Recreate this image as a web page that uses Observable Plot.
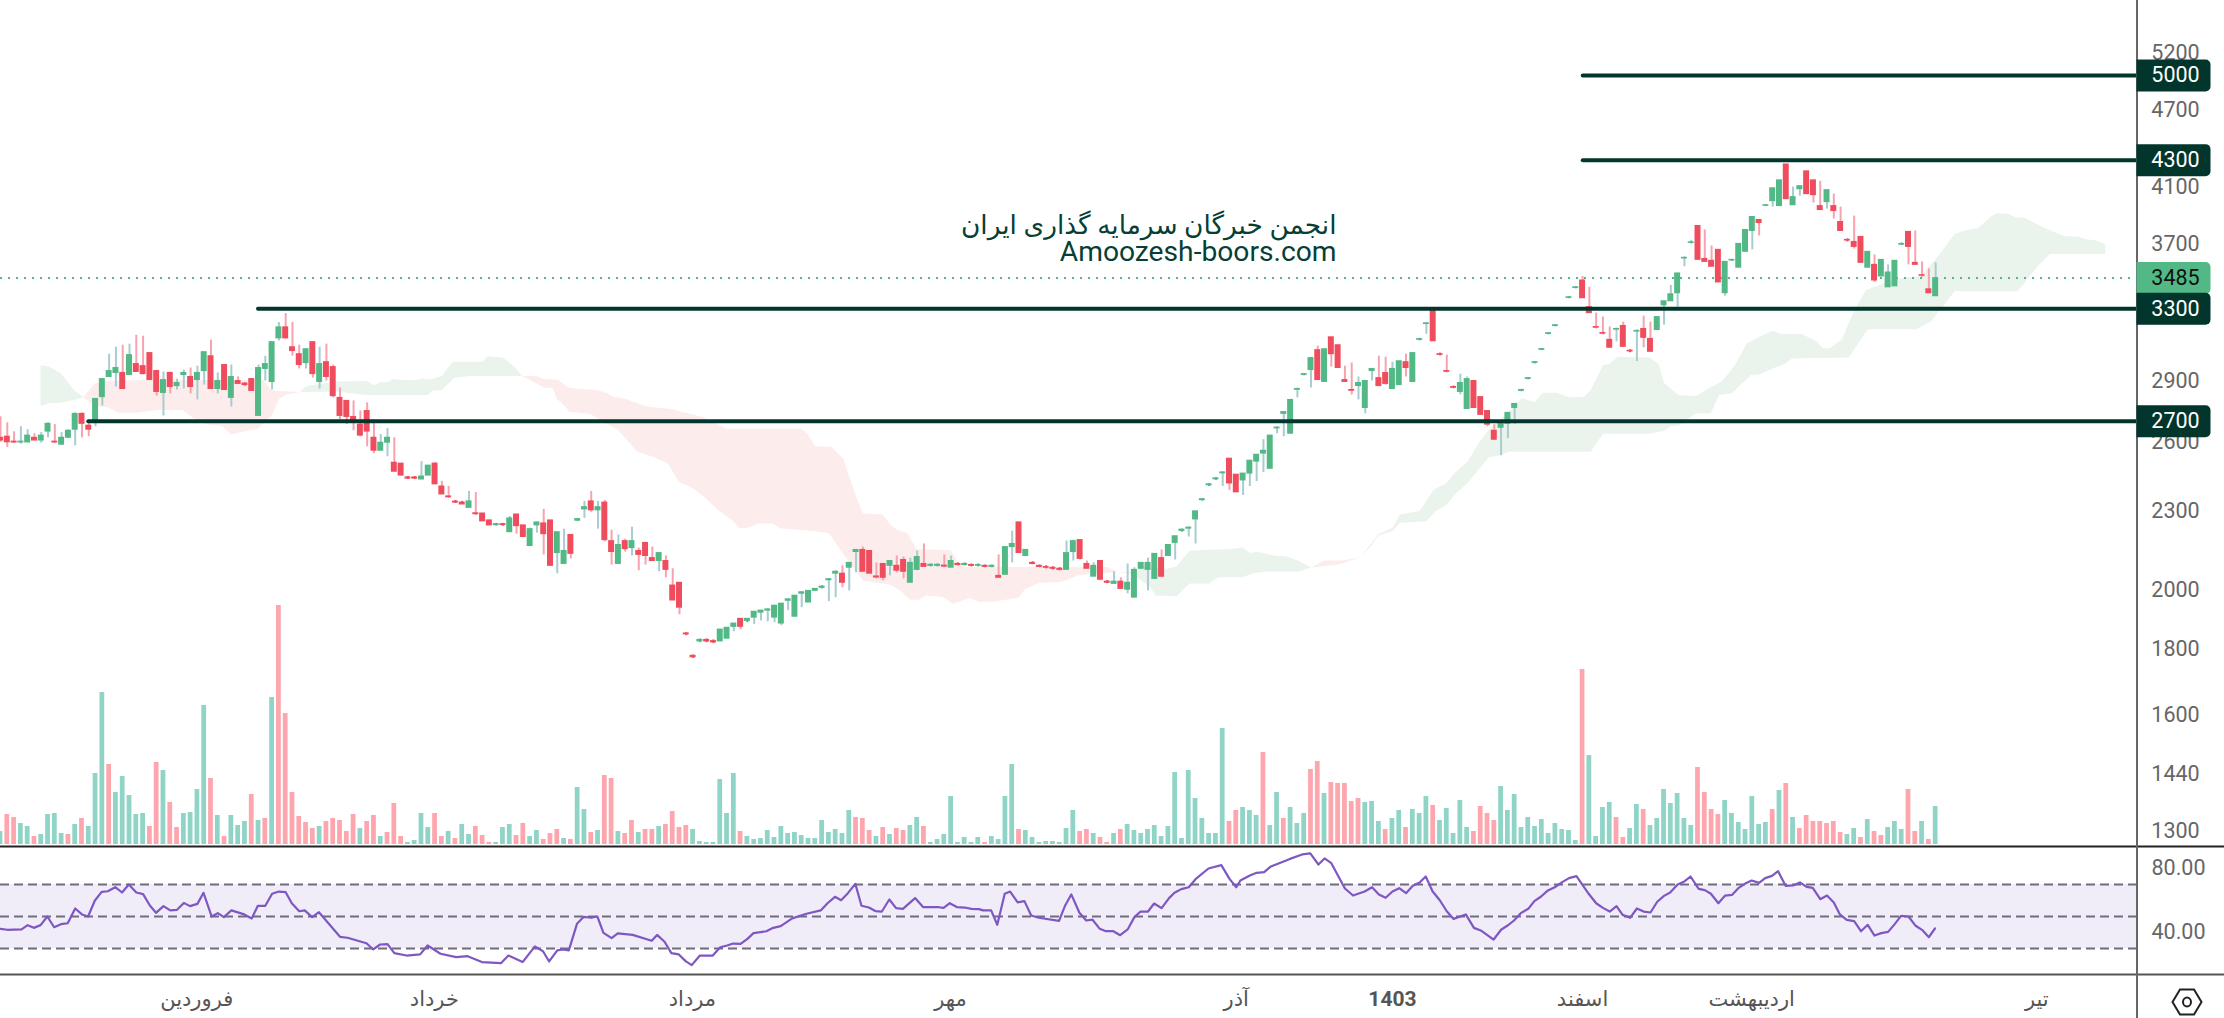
<!DOCTYPE html>
<html>
<head>
<meta charset="utf-8">
<script src="https://cdn.jsdelivr.net/npm/d3@7"></script>
<script src="https://cdn.jsdelivr.net/npm/@observablehq/plot@0.6"></script>
<style>
html,body{margin:0;padding:0;background:#fff;width:2224px;height:1018px;overflow:hidden}
#c{position:relative;width:2224px;height:1018px;overflow:hidden}
#c svg{position:absolute;left:0}
</style>
</head>
<body>
<div id="c"></div>
<script>
const open=[2622,2627,2604,2600,2600,2622,2609,2651,2604,2590,
2622,2660,2736,2679,2697,2819,2922,2943,2943,2932,
2990,2979,3049,2953,2840,2943,2875,2932,2922,2906,
2953,3032,2860,2985,2815,2901,2888,2911,2726,2964,
2896,3130,3192,3081,3043,2995,3109,2896,3000,2974,
2815,2800,2721,2684,2750,2622,2562,2599,2508,2504,
2443,2443,2434,2451,2504,2404,2362,2340,2336,2314,
2292,2291,2263,2244,2248,2216,2287,2243,2162,2243,
2251,2263,2135,2094,2205,2262,2308,2341,2304,2336,
2181,2094,2181,2154,2143,2174,2116,2105,2105,2015,
2025,1850,1778,1824,1829,1825,1824,1833,1872,1899,
1892,1903,1920,1927,1903,1883,1961,1906,1986,1955,
1996,2007,2034,2058,2058,2080,2139,2147,2143,2048,
2094,2087,2087,2109,2025,2072,2094,2087,2087,2088,
2080,2094,2090,2090,2087,2087,2083,2050,2054,2158,
2255,2124,2098,2087,2083,2080,2076,2072,2139,2185,
2094,2047,2105,2029,2021,2029,2000,1972,2076,2072,
2039,2116,2124,2174,2221,2230,2267,2346,2409,2435,
2461,2526,2455,2430,2460,2513,2549,2481,2666,2736,
2641,2856,2933,2958,3065,2896,3136,3092,2906,2855,
2875,2765,2953,2916,2943,2860,2880,3000,2896,3122,
3211,3302,3043,2953,2870,2845,2760,2901,2819,2750,
2655,2669,2688,2765,2851,2912,2996,3067,3155,3200,
3298,3364,3424,3470,3309,3194,3160,3122,3179,3200,
3062,3168,3183,3127,3177,3320,3344,3392,3609,3710,
3824,3606,3594,3665,3392,3596,3550,3652,3790,3865,
3964,3997,3962,4267,3968,4083,4215,4148,3962,3990,
3962,3851,3730,3717,3750,3550,3568,3495,3428,3434,
3699,3784,3581,3503,3416,3374];
const high=[2722,2693,2650,2674,2660,2641,2646,2693,2684,2646,
2660,2741,2741,2693,2810,2911,3043,3081,3092,3098,
3147,3142,3049,2958,2948,2948,2911,2958,2969,2979,
3054,3120,2943,2985,2985,2922,2891,2911,2985,3032,
3109,3220,3272,3220,3092,3070,3109,3081,3098,2985,
2865,2800,2800,2750,2790,2707,2637,2665,2622,2504,
2447,2447,2513,2495,2508,2426,2404,2345,2341,2383,
2378,2291,2263,2251,2251,2279,2287,2243,2232,2255,
2308,2263,2216,2228,2205,2271,2341,2383,2341,2345,
2224,2205,2189,2236,2154,2174,2158,2135,2124,2076,
2025,1853,1780,1832,1832,1829,1863,1869,1883,1899,
1899,1923,1927,1934,1944,1951,1969,1979,1993,1996,
2003,2014,2039,2069,2087,2098,2147,2158,2143,2098,
2094,2105,2124,2120,2116,2143,2170,2094,2094,2128,
2124,2098,2098,2094,2094,2090,2090,2128,2158,2220,
2255,2147,2102,2090,2087,2083,2080,2181,2185,2185,
2105,2098,2105,2033,2065,2043,2094,2080,2098,2116,
2132,2147,2166,2200,2228,2236,2300,2353,2416,2442,
2469,2526,2455,2460,2517,2544,2613,2632,2674,2745,
2805,2865,2940,3022,3087,3070,3136,3092,2979,2995,
2922,2901,2964,3032,3027,3000,3005,3043,3049,3130,
3220,3302,3049,3038,2875,2937,2922,2901,2819,2750,
2684,2697,2741,2785,2858,2919,3003,3074,3162,3207,
3305,3371,3431,3495,3428,3274,3251,3194,3188,3222,
3067,3177,3257,3222,3251,3344,3440,3514,3620,3723,
3824,3797,3690,3665,3587,3603,3704,3797,3886,3865,
3971,4090,4148,4267,4098,4105,4215,4148,4141,4076,
4047,3955,3737,3892,3750,3652,3632,3600,3568,3594,
3710,3784,3790,3587,3543,3581];
const low=[2600,2577,2595,2592,2600,2609,2597,2622,2595,2586,
2618,2585,2622,2627,2674,2775,2922,2870,2860,2932,
2948,2932,2906,2824,2726,2835,2855,2860,2835,2805,
2880,2860,2835,2855,2770,2886,2875,2850,2726,2901,
2855,3115,3126,3032,2964,2964,2916,2860,2901,2815,
2707,2684,2655,2627,2580,2549,2562,2535,2468,2451,
2434,2434,2434,2451,2413,2370,2353,2332,2328,2314,
2283,2259,2243,2240,2240,2216,2208,2197,2162,2212,
2128,2087,2058,2094,2113,2259,2271,2296,2228,2178,
2090,2094,2139,2124,2069,2090,2105,2065,2043,1962,
1913,1843,1770,1820,1820,1817,1824,1833,1856,1863,
1886,1880,1892,1889,1886,1876,1927,1906,1937,1955,
1996,2003,1958,1972,2007,1996,2061,2065,2058,2039,
2032,2050,2061,2039,2025,2069,2083,2083,2083,2080,
2080,2087,2087,2083,2083,2080,2080,2043,2054,2098,
2135,2124,2091,2080,2076,2072,2069,2072,2105,2109,
2076,2047,2032,2022,2021,2003,1986,1972,2076,1996,
2039,2043,2124,2109,2216,2197,2170,2342,2404,2430,
2404,2387,2379,2366,2404,2425,2464,2481,2641,2627,
2641,2815,2928,2865,2906,2896,2974,2969,2896,2830,
2805,2736,2901,2875,2880,2860,2880,2922,2896,3116,
3153,3114,3034,2943,2862,2830,2760,2765,2731,2674,
2609,2540,2618,2684,2846,2907,2991,3062,3150,3195,
3293,3359,3419,3362,3274,3183,3149,3078,3111,3083,
3051,3003,3078,3056,3177,3205,3344,3309,3556,3704,
3600,3587,3556,3458,3374,3591,3550,3652,3665,3757,
3959,3955,3962,4011,3968,4033,4047,3983,3934,3941,
3872,3790,3717,3671,3581,3550,3458,3495,3428,3434,
3693,3568,3568,3490,3392,3374];
const close=[2609,2601,2600,2604,2632,2609,2632,2688,2600,2622,
2655,2736,2688,2660,2810,2911,2953,2969,2860,3038,
2948,2937,2906,2845,2906,2870,2891,2943,2870,2943,
3054,2860,2901,2855,2922,2886,2880,2850,2969,2990,
3109,3192,3130,3060,2985,3070,2937,2990,2922,2824,
2726,2721,2697,2632,2651,2562,2599,2622,2468,2451,
2438,2438,2447,2495,2413,2370,2358,2336,2328,2341,
2288,2259,2243,2248,2244,2271,2240,2197,2228,2255,
2208,2087,2216,2143,2132,2268,2317,2304,2317,2185,
2139,2166,2150,2181,2128,2124,2105,2135,2072,1962,
1937,1847,1773,1829,1824,1821,1863,1869,1883,1872,
1899,1923,1927,1931,1944,1951,1966,1979,1991,1996,
2003,2011,2038,2065,2025,2098,2147,2065,2058,2044,
2043,2105,2069,2065,2098,2120,2083,2091,2091,2084,
2105,2090,2094,2087,2090,2083,2087,2043,2158,2170,
2135,2147,2094,2083,2080,2076,2072,2135,2181,2113,
2076,2087,2036,2025,2029,2003,2025,2072,2098,2098,
2132,2047,2166,2200,2226,2234,2300,2350,2413,2439,
2465,2417,2379,2460,2517,2544,2562,2632,2670,2745,
2805,2860,2937,3022,2906,3070,3043,2969,2896,2851,
2891,2901,2964,2875,2886,2964,3005,2969,3049,3126,
3215,3114,3039,2949,2866,2891,2911,2765,2731,2684,
2613,2697,2741,2785,2855,2916,3000,3071,3159,3204,
3302,3368,3428,3362,3274,3190,3156,3078,3183,3083,
3058,3172,3133,3056,3251,3344,3386,3514,3613,3714,
3600,3587,3556,3458,3587,3600,3704,3797,3886,3844,
3968,4090,4148,4011,4026,4105,4047,4040,3934,4076,
3927,3790,3726,3684,3581,3652,3470,3600,3520,3594,
3703,3684,3568,3499,3392,3485];
const volume=[39,90,81,63,54,24,30,90,93,33,
30,60,78,54,213,456,240,156,204,147,
90,93,54,246,222,126,51,93,96,165,
417,198,87,24,87,57,69,150,72,78,
441,717,393,156,84,66,48,54,69,78,
72,39,90,48,69,87,24,36,123,24,
6,12,93,51,93,24,39,18,60,30,
54,27,6,6,51,60,27,63,24,42,
15,33,45,18,15,171,105,36,42,207,
198,39,33,72,36,45,45,54,60,99,
51,57,45,9,6,6,195,93,213,39,
24,15,18,42,21,54,33,36,27,18,
18,72,36,45,33,102,81,78,42,24,
51,30,48,42,57,81,54,6,15,30,
144,6,21,6,21,6,24,15,144,240,
45,42,21,6,9,9,6,48,102,39,
45,33,21,6,33,45,60,42,33,45,
57,24,54,216,18,222,138,78,33,33,
348,69,102,111,102,87,276,57,156,78,
111,63,93,225,249,153,186,183,183,129,
138,126,129,69,45,78,102,51,105,93,
144,117,72,108,33,132,51,39,114,93,
72,174,102,150,51,81,54,75,33,63,
45,42,12,525,267,24,111,126,81,21,
48,120,105,57,78,165,123,153,78,57,
231,156,105,90,132,93,66,45,144,60,
66,105,162,183,81,48,87,69,69,63,
69,36,30,48,21,75,39,27,51,69,
45,165,39,69,15,114];
const volumeDownBars=[1,2,5,10,12,16,22,23,25,26,31,33,37,39,41,42,43,44,45,46,48,49,50,51,52,54,55,57,58,59,64,65,67,70,71,72,76,77,80,81,82,84,87,89,90,92,93,95,96,98,99,100,101,109,126,127,128,130,132,133,136,145,150,159,160,162,163,165,181,182,186,189,193,194,196,197,198,199,200,204,207,211,217,218,219,220,233,238,239,242,250,251,252,253,261,263,265,266,267,268,269,270,271,274,276,277,281,282,284];

const rsiBar=[0,1,3.1,4,4.9,5.9,6.9,7.9,8.9,9.9,11,12,12.9,13.9,14.9,15.8,16.9,17.9,18.9,20,21,22,22.9,24,25,26,27,27.9,29,29.9,31.1,32,32.9,34,35.9,37,37.9,39,40,41,42,42.9,44,44.8,45.9,46.9,50,51.1,53.9,54.9,55.9,57,58,59.8,61.8,62.9,64.8,67.1,68.8,70.9,73.7,74.8,76.9,78.7,79.9,80.8,82,82.8,83.7,84.9,85.9,87,87.9,88.8,90,90.9,93.1,95.9,96.7,97.8,98.8,99.9,100.9,101.8,103,104.9,106,107,107.9,109,
110,110.9,112.8,113.8,114.9,116.6,118.7,120.8,121.8,122.9,123.8,124.8,125.9,126.8,127.9,128.9,129.8,130.9,131.9,132.9,134.7,135.9,138.2,138.9,139.8,140.9,142,143,144.1,144.7,145.9,146.8,147.9,148.7,149.8,150.8,151.8,152.9,155.9,156.8,157.7,158.9,159.9,160.8,161.9,162.8,163.9,164.9,166,167,167.9,169,169.9,171,172.1,172.9,173.9,175,176,177.9,179.8,181,182,182.6,184,185,186.1,187.1,189.9,191.7,192.9,194.1,195,196,198,199.2,200.9,202,203,204,205,206,207,208,209,209.9,210.9,212,213,214,215.8,217,218,
219.9,221,221.9,222.9,223.9,225,225.9,226.9,227.9,228.9,230,231,232.1,233.9,235,236,237,238,238.9,240,241,242,243,244,245,245.9,247,248,248.9,250.1,251,251.9,253,254,255,256,256.9,257.9,259,259.9,260.9,261.8,262.9,264,265,266,266.9,268,269,270,270.9,271.9,273,274,275,276,277,278,279,279.9,281,282,283.1,284,284.9];
const rsiValue=[42.3,41.7,41.9,44.6,42.9,44.6,50,43.3,45.2,45.8,55,51.3,50,60,65.4,65.8,68.3,65,70,65,64,56.9,52.3,56.5,53.8,54.2,58.5,56.5,57.9,64.8,50,52.1,49.6,53.8,51.3,48.8,56.7,56.7,64.2,65.6,65.2,58.3,53.3,53.8,49.6,52.7,37.3,36.7,33.3,29.4,32.5,32.7,27.1,25.6,26.3,31.9,26.7,24.6,25.2,21.5,20.8,25.6,21.5,31.3,28.3,21.9,28.8,29.4,28.8,45.4,49.8,49.2,50,39.8,36.5,39.4,38.5,34.8,38.5,34.2,27.1,26.3,22.1,19.6,25.6,25.6,30.8,31.9,33.1,32.9,
36,39.6,40.8,42.9,44,48.8,51.7,53.8,58.3,62.3,60.2,64.6,70.4,56.7,55.6,53.3,53.1,60.6,55.2,54.8,61.5,55.8,55.8,55.4,58.3,55.8,55.6,54.8,54.6,53.8,53.8,44.8,64.2,65.6,58.8,59.6,50.6,49.2,47.3,56.9,63.8,52.3,47.5,48.1,42.3,40.8,40.8,38.3,41.9,49.6,53.1,53.1,58.1,55.2,61.5,64.8,67.1,68.3,73.3,80,82.1,73.5,68.3,72.5,75.6,77.3,77.7,81.3,86,88.8,89.4,82.5,86.3,83.3,67.5,63.1,65.6,68.3,63.8,61.7,65.6,67.7,64.6,69.2,71.3,75,65.8,60,53.3,48.5,51.3,42.9,41.3,
35.6,41.7,44.2,47.5,52.1,54.8,59.6,62.5,66.3,68.3,71.5,74,75.2,64.2,58.3,55.4,53.1,56.5,51,49.2,55,53.1,52.5,59.2,62.9,65,70,71.9,75,67.3,66.5,64.2,58.3,63.1,63.5,67.9,70.4,72.5,71,74,75.4,78.3,69.2,69.4,71.3,68.5,67.9,60.8,63.1,58.8,51.3,47.9,47.1,40.8,44.8,38.1,39.6,40.4,45.4,50.4,50,44.4,41.3,37.1,42.5];

// Ichimoku cloud: [bar, price] outline pieces between crossings
const cloud1Up=[[5.9,2983],[7.1,2977],[8.9,2941],[10.8,2855],[12.2,2818]];
const cloud1Lo=[[5.9,2775],[7.1,2788],[8.9,2791],[10.8,2805],[12.2,2818]];
const cloud2Up=[[12.2,2818],[13.9,2889],[15.8,2901],[21,2906],[38.7,2906],[40,2853],[42,2848],[44.1,2845]];
const cloud2Lo=[[12.2,2818],[13.9,2775],[15.8,2768],[17.4,2742],[20,2742],[23.2,2755],[26.8,2755],[28.4,2715],[30.5,2685],[32.6,2679],[34,2637],[36.3,2655],[37.9,2663],[40,2731],[41,2808],[42,2830],[44.1,2845]];
const cloud3Up=[[44.1,2845],[45,2875],[49.5,2899],[54,2901],[55,2879],[56,2896],[57.1,2896],[57.9,2913],[59,2906],[61.6,2906],[62,2914],[63.2,2909],[65,2927],[66.6,3002],[71,3002],[71.8,3032],[74,3025],[75.8,2972],[76.8,2927]];
const cloud3Lo=[[44.1,2845],[49.5,2847],[53.7,2830],[62.9,2830],[63.7,2852],[65,2855],[66.8,2916],[69,2927],[73.7,2927],[76.8,2927]];
const cloud4Up=[[76.8,2927],[78.9,2927],[80,2913],[82.1,2908],[83.6,2868],[85.2,2860],[87.8,2855],[89.4,2838],[90.2,2821],[92,2811],[95.2,2772],[98.8,2760],[100.4,2745],[103.6,2720],[107,2665],[118,2665],[118.9,2637],[120,2581],[122.3,2581],[124.1,2526],[126,2363],[127,2291],[129.9,2287],[131.2,2241],[132.2,2224],[133.6,2212],[134.9,2150],[139.9,2147],[141,2100],[142,2083],[163,2083],[164.6,2064]];
const cloud4Lo=[[76.8,2927],[78.9,2889],[80,2868],[81.3,2865],[82,2805],[82.5,2797],[83.8,2747],[86.9,2736],[89.3,2688],[90.9,2660],[92,2620],[93.8,2558],[96.2,2534],[98.3,2504],[99.9,2423],[102,2396],[104.1,2349],[105.7,2304],[107.8,2263],[108.8,2233],[109.9,2233],[111.7,2251],[113.8,2251],[114.8,2232],[119.8,2221],[122,2212],[124.1,2132],[127,2033],[131,2018],[132.6,1996],[133.9,1965],[135.2,1965],[136.3,1980],[137.6,1978],[138.9,1973],[140.2,1951],[142.8,1971],[144.1,1958],[146.2,1958],[149.9,1972],[150.9,2003],[153,2025],[156.2,2028],[158.8,2052],[164.6,2064]];
const cloud5Up=[[164.6,2064],[167.2,2064],[168,2088],[171.9,2076],[173.2,2085],[175.1,2144],[177.7,2148],[180.8,2150],[182.9,2156],[184,2135],[185,2140],[187.7,2125],[189.3,2123],[191.4,2103],[193,2081]];
const cloud5Lo=[[164.6,2064],[166.6,2058],[169.3,2010],[170.1,1980],[173.2,1977],[175.1,2022],[178,2022],[179.3,2045],[183,2045],[184.3,2059],[186.3,2066],[191.2,2066],[193,2081]];
const cloud6Up=[[193,2081],[195,2107],[197.7,2107],[200.3,2119]];
const cloud6Lo=[[193,2081],[197.1,2092],[200.3,2119]];
const cloud7Up=[[200.3,2119],[202.9,2208],[205,2234],[206.1,2287],[209,2301],[211.1,2391],[212.9,2417],[214.2,2463],[216.1,2515],[217.7,2598],[219.2,2660],[222.1,2747],[224,2813],[226,2795],[227.1,2841],[229.2,2841],[231,2818],[233.2,2821],[234.2,2855],[236,2985],[236.9,2990],[238.2,3029],[242.9,3025],[244.2,2990],[245,2892],[247.1,2830],[249.7,2825],[251.6,2864],[253.5,2898],[255.3,2976],[257.2,3103],[259.1,3140],[261,3173],[262.2,3155],[265.3,3155],[267.5,3112],[268.4,3076],[269.4,3076],[271.2,3125],[272.8,3272],[274.7,3410],[278.4,3470],[280.9,3491],[282.8,3495],[285.3,3622],[287.8,3770],[289.5,3797],[291.2,3808],[293.1,3888],[294,3911],[295.8,3906],[296.8,3883],[298,3883],[300.8,3815],[303.9,3757],[306.1,3752],[307.1,3734],[308.3,3730],[310,3704]];
const cloud7Lo=[[200.3,2119],[201.9,2163],[202.9,2202],[205,2221],[206.1,2254],[210,2260],[211.4,2301],[212.9,2325],[214.2,2370],[216.1,2420],[219.2,2532],[220.8,2540],[222.1,2558],[234.2,2558],[236,2641],[242.9,2641],[245,2654],[246,2676],[247.1,2679],[249.7,2739],[251.9,2739],[253.1,2830],[255,2838],[257.8,2932],[259,2935],[261,2967],[262.9,2993],[263.8,3020],[272.2,3025],[275,3181],[282.1,3181],[284.3,3225],[285.6,3291],[287.8,3404],[297.1,3404],[300,3558],[301.8,3637],[310,3637]];

const levels=[5000,4300,3300,2700];
const levelStartBar=[233.1,233.1,38,13];
const lastPrice=3485;
const priceTicks=[5200,4700,4100,3700,2900,2600,2300,2000,1800,1600,1440,1300];
const rsiTicks=[80,40];
const rsiBands=[70,50,30];
const monthLabels=["فروردین","خرداد","مرداد","مهر","آذر","اسفند","اردیبهشت","تیر"];
const monthBars=[28.9,63.9,101.9,139.9,182,233,257.9,299.9];
const yearLabels=["1403"];
const yearBars=[205];
const watermark=["انجمن خبرگان سرمایه گذاری ایران","Amoozesh-boors.com"];

const W=2224, pxPerBar=6.79, axisBar=2136.5/pxPerBar;
const xScale={axis:null,domain:[0,W/pxPerBar],range:[0,W]};
const FONT="Roboto,'Noto Sans','DejaVu Sans',sans-serif";
const GREEN="#52b986",RED="#ef4d5e",WG="#a8ccd0",WR="#f6a3ae",VG="#8fd4c6",VR="#fda6ae",DARK="#02362c",AXIS="#666";
const bars=d3.range(open.length);
const isUp=i=>close[i]>=open[i];
const isDoji=i=>(high[i]-low[i])/close[i]<0.012;
const poly=(u,l,fill)=>Plot.line(u.concat(l.slice().reverse()),{x:d=>d[0],y:d=>d[1],fill,stroke:"none"});
const tagSymbol={draw(c){
  const l=-37,r=37,t=-16,b=16,q=5;
  c.moveTo(l,t);c.lineTo(r-q,t);c.arcTo(r,t,r,t+q,q);c.lineTo(r,b-q);c.arcTo(r,b,r-q,b,q);c.lineTo(l,b);c.closePath();
}};
const mount=(el,top)=>{el.style.top=top+"px";el.style.background="transparent";document.getElementById("c").appendChild(el);};

// volume pane
const volDown=new Set(volumeDownBars);
mount(Plot.plot({
  width:W,height:846,margin:0,x:xScale,
  y:{axis:null,domain:[0,717],range:[844,605]},
  style:{fontFamily:FONT,background:"transparent"},
  marks:[Plot.rectY(bars,{x1:i=>i-.35,x2:i=>i+.35,y:i=>volume[i],fill:i=>volDown.has(i)?VR:VG})]
}),0);

// price pane
const lvl=d3.range(levels.length);
mount(Plot.plot({
  width:W,height:846,margin:0,x:xScale,
  y:{axis:null,type:"log",domain:[1300,5000],range:[831,75]},
  style:{fontFamily:FONT,background:"transparent"},
  marks:[
    poly(cloud1Up,cloud1Lo,"#ebf4ec"),
    poly(cloud2Up,cloud2Lo,"#fdecec"),
    poly(cloud3Up,cloud3Lo,"#ebf4ec"),
    poly(cloud4Up,cloud4Lo,"#fdecec"),
    poly(cloud5Up,cloud5Lo,"#ebf4ec"),
    poly(cloud6Up,cloud6Lo,"#fdecec"),
    poly(cloud7Up,cloud7Lo,"#ebf4ec"),
    Plot.ruleY([lastPrice],{x1:0,x2:axisBar,stroke:GREEN,strokeWidth:2,strokeDasharray:"2,6"}),
    Plot.ruleX(bars,{x:i=>i,y1:i=>low[i],y2:i=>high[i],stroke:i=>isDoji(i)?(isUp(i)?GREEN:RED):(isUp(i)?WG:WR),strokeWidth:2}),
    Plot.rect(bars,{x1:i=>i-.44,x2:i=>i+.44,y1:i=>open[i],y2:i=>close[i],fill:i=>isUp(i)?GREEN:RED,insetTop:-.5,insetBottom:-.5}),
    Plot.ruleY(lvl,{x1:i=>levelStartBar[i],x2:axisBar,y:i=>levels[i],stroke:DARK,strokeWidth:4,strokeLinecap:"round"}),
    Plot.ruleX([axisBar],{stroke:AXIS,strokeWidth:2}),
    Plot.text(priceTicks,{y:d=>d,text:d=>String(d),frameAnchor:"right",textAnchor:"middle",dx:-49,fontSize:21.5,fill:AXIS}),
    Plot.dot([5000,4300],{y:d=>d,frameAnchor:"right",dx:-51,symbol:tagSymbol,fill:DARK,stroke:"none"}),
    Plot.dot([lastPrice],{y:d=>d,frameAnchor:"right",dx:-51,symbol:tagSymbol,fill:GREEN,stroke:"none"}),
    Plot.dot([3300,2700],{y:d=>d,frameAnchor:"right",dx:-51,symbol:tagSymbol,fill:DARK,stroke:"none"}),
    Plot.text([lastPrice],{y:d=>d,text:d=>String(d),frameAnchor:"right",textAnchor:"middle",dx:-49,fontSize:21.5,fill:"#111"}),
    Plot.text(levels,{y:d=>d,text:d=>String(d),frameAnchor:"right",textAnchor:"middle",dx:-49,fontSize:21.5,fill:"#fff"}),
    Plot.text([watermark[0]],{x:1336/pxPerBar,y:3827,text:d=>d,textAnchor:"end",fontSize:26.4,fill:"#073f35"}),
    Plot.text([watermark[1]],{x:1336/pxPerBar,y:3650,text:d=>d,textAnchor:"end",fontSize:28.2,fill:"#073f35"})
  ]
}),0);

// RSI pane and time axis
const rsiPoints=d3.range(rsiBar.length);
mount(Plot.plot({
  width:W,height:174,margin:0,x:xScale,
  y:{axis:null,domain:[70,30],range:[40,104]},
  style:{fontFamily:FONT,background:"transparent"},
  marks:[
    Plot.rect([0],{x1:0,x2:axisBar,y1:70,y2:30,fill:"#f0edf9"}),
    Plot.ruleY(rsiBands,{x1:0,x2:axisBar,stroke:"#6f6c7e",strokeWidth:2,strokeDasharray:"9,5"}),
    Plot.line(rsiPoints,{x:i=>rsiBar[i],y:i=>rsiValue[i],stroke:"#7e57c2",strokeWidth:2.2}),
    Plot.ruleY([93.75],{stroke:"#222",strokeWidth:2}),
    Plot.ruleY([13.75],{stroke:"#555",strokeWidth:2}),
    Plot.ruleX([axisBar],{stroke:AXIS,strokeWidth:2}),
    Plot.text(rsiTicks,{y:d=>d,text:d=>d.toFixed(2),frameAnchor:"right",textAnchor:"middle",dx:-46,fontSize:21.5,fill:AXIS}),
    Plot.text(monthLabels,{x:(d,i)=>monthBars[i],text:d=>d,frameAnchor:"bottom",textAnchor:"middle",lineAnchor:"middle",dy:-19,fontSize:21,fill:"#555"}),
    Plot.text(yearLabels,{x:(d,i)=>yearBars[i],text:d=>d,frameAnchor:"bottom",textAnchor:"middle",lineAnchor:"middle",dy:-19,fontSize:21,fontWeight:700,fill:"#555"})
  ]
}),844);

// logo glyph in the corner
const ns="http://www.w3.org/2000/svg";
const logo=document.createElementNS(ns,"svg");
logo.setAttribute("width","40");logo.setAttribute("height","36");logo.setAttribute("viewBox","-20 -18 40 36");
logo.style.cssText="left:2167px;top:984px";
logo.innerHTML='<polygon points="-14.5,0 -7,-12.5 7,-12.5 14.5,0 7,12.5 -7,12.5" fill="none" stroke="#222" stroke-width="2"/><ellipse cx="0" cy="0" rx="4" ry="4.5" fill="none" stroke="#222" stroke-width="2"/>';
document.getElementById("c").appendChild(logo);
</script>
</body>
</html>
